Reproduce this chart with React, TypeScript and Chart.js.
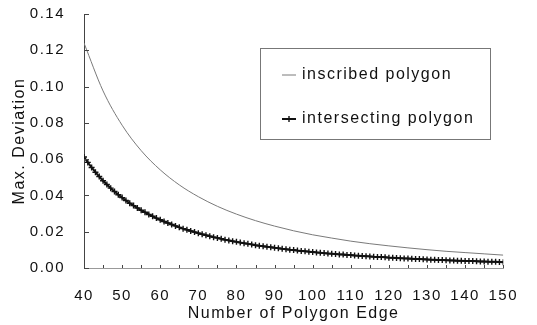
import React, { useEffect, useRef } from "react";
import { Chart, registerables } from "chart.js";

Chart.register(...registerables);

// Number of polygon edges (x categories for the intersecting polygon series)
const edges = [
  40, 41, 42, 43, 44, 45, 46, 47, 48, 49,
  50, 51, 52, 53, 54, 55, 56, 57, 58, 59,
  60, 61, 62, 63, 64, 65, 66, 67, 68, 69,
  70, 71, 72, 73, 74, 75, 76, 77, 78, 79,
  80, 81, 82, 83, 84, 85, 86, 87, 88, 89,
  90, 91, 92, 93, 94, 95, 96, 97, 98, 99,
  100, 101, 102, 103, 104, 105, 106, 107, 108, 109,
  110, 111, 112, 113, 114, 115, 116, 117, 118, 119,
  120, 121, 122, 123, 124, 125, 126, 127, 128, 129,
  130, 131, 132, 133, 134, 135, 136, 137, 138, 139,
  140, 141, 142, 143, 144, 145, 146, 147, 148, 149, 150,
];

const intersectingValues = [
  0.0612, 0.0582, 0.0554, 0.0528, 0.0504, 0.0481, 0.046, 0.044, 0.0422, 0.0404,
  0.0388, 0.0372, 0.0357, 0.0344, 0.0331, 0.0318, 0.0307, 0.0295, 0.0285, 0.0275,
  0.0266, 0.0256, 0.0248, 0.024, 0.0232, 0.0224, 0.0217, 0.0211, 0.0204, 0.0198,
  0.0192, 0.0186, 0.0181, 0.0175, 0.017, 0.0166, 0.0161, 0.0156, 0.0152, 0.0148,
  0.0144, 0.014, 0.0137, 0.0133, 0.013, 0.0126, 0.0123, 0.012, 0.0117, 0.0114,
  0.0111, 0.0109, 0.0106, 0.0104, 0.0101, 0.0099, 0.0096, 0.0094, 0.0092, 0.009,
  0.0088, 0.0086, 0.0084, 0.0082, 0.008, 0.0079, 0.0077, 0.0075, 0.0074, 0.0072,
  0.0071, 0.0069, 0.0068, 0.0066, 0.0065, 0.0064, 0.0062, 0.0061, 0.006, 0.0059,
  0.0057, 0.0056, 0.0055, 0.0054, 0.0053, 0.0052, 0.0051, 0.005, 0.0049, 0.0048,
  0.0047, 0.0046, 0.0045, 0.0044, 0.0044, 0.0043, 0.0042, 0.0041, 0.004, 0.004,
  0.0039, 0.0038, 0.0038, 0.0037, 0.0036, 0.0036, 0.0035, 0.0034, 0.0034, 0.0033, 0.0032,
];

const inscribedEdges = [
  40, 45, 50, 55, 60, 65, 70, 75, 80, 85, 90, 95,
  100, 105, 110, 115, 120, 125, 130, 135, 140, 145, 150,
];

const inscribedValues = [
  0.124, 0.0976, 0.0787, 0.0647, 0.0541, 0.0458, 0.0393, 0.034, 0.0297, 0.0261, 0.0231, 0.0205,
  0.0183, 0.0165, 0.0148, 0.0134, 0.0122, 0.0111, 0.0101, 0.0092, 0.0085, 0.0078, 0.0071,
];

const seriesLabels = ["inscribed polygon", "intersecting polygon"];
const xTitle = "Number of Polygon Edge";
const yTitle = "Max. Deviation";

const FONT = "'Liberation Sans', Arial, Helvetica, sans-serif";
const TEXT = "#111111";

const spacingPlugin = {
  id: "spacing",
  afterInit(c: any) {
    c.ctx.letterSpacing = "1.5px";
  },
  beforeUpdate(c: any) {
    c.ctx.letterSpacing = "1.5px";
  },
  beforeDraw(c: any) {
    c.ctx.letterSpacing = "1.5px";
  },
};

const tickMarksPlugin = {
  id: "tickMarks",
  afterDatasetsDraw(chart: any) {
    const { ctx, chartArea, scales } = chart;
    const x = scales.x;
    const y = scales.y;
    ctx.save();
    ctx.strokeStyle = "#444";
    ctx.lineWidth = 1;
    ctx.beginPath();
    y.ticks.forEach((t: any) => {
      const py = Math.round(y.getPixelForValue(t.value)) + 0.5;
      ctx.moveTo(chartArea.left, py);
      ctx.lineTo(chartArea.left + 5, py);
    });
    for (let v = x.min; v <= x.max; v += 5) {
      const px = Math.round(x.getPixelForValue(v)) + 0.5;
      ctx.moveTo(px, chartArea.bottom);
      ctx.lineTo(px, chartArea.bottom - 3);
    }
    ctx.stroke();
    ctx.restore();
  },
};

const legendPlugin = {
  id: "boxLegend",
  afterDraw(chart: any) {
    const { ctx, chartArea } = chart;
    const bx = chartArea.left + 176;
    const by = chartArea.top + 34;
    const bw = 230;
    const bh = 91;
    ctx.save();
    ctx.letterSpacing = "1.5px";
    ctx.strokeStyle = "#777";
    ctx.lineWidth = 1;
    ctx.strokeRect(Math.round(bx) + 0.5, Math.round(by) + 0.5, bw, bh);
    const rows = [by + 27, by + 71];
    ctx.font = `16px ${FONT}`;
    ctx.textBaseline = "middle";
    ctx.textAlign = "left";
    chart.data.datasets.forEach((ds: any, i: number) => {
      const ry = rows[i];
      ctx.strokeStyle = ds.borderColor;
      ctx.lineWidth = ds.borderWidth;
      ctx.beginPath();
      ctx.moveTo(bx + 22, ry);
      ctx.lineTo(bx + 36, ry);
      ctx.stroke();
      if (ds.pointRadius > 0) {
        ctx.lineWidth = 1.4;
        ctx.beginPath();
        ctx.moveTo(bx + 29 - 3, ry);
        ctx.lineTo(bx + 29 + 3, ry);
        ctx.moveTo(bx + 29, ry - 3);
        ctx.lineTo(bx + 29, ry + 3);
        ctx.stroke();
      }
      ctx.fillStyle = TEXT;
      ctx.fillText(ds.label, bx + 42, ry);
    });
    ctx.restore();
  },
};

export default function App() {
  const canvasRef = useRef<HTMLCanvasElement | null>(null);

  useEffect(() => {
    document.body.style.margin = "0";
    const canvas = canvasRef.current;
    if (!canvas) return;
    const chart = new Chart(canvas, {
      type: "line",
      data: {
        datasets: [
          {
            label: seriesLabels[0],
            data: inscribedEdges.map((e, i) => ({ x: e, y: inscribedValues[i] })),
            borderColor: "#7a7a7a",
            borderWidth: 1,
            pointRadius: 0,
            cubicInterpolationMode: "monotone",
            fill: false,
          },
          {
            label: seriesLabels[1],
            data: edges.map((e, i) => ({ x: e, y: intersectingValues[i] })),
            borderColor: "#111111",
            borderWidth: 2,
            pointStyle: "cross",
            pointRadius: 3,
            pointBorderWidth: 1.4,
            pointBorderColor: "#111111",
            fill: false,
          },
        ],
      } as any,
      options: {
        animation: false,
        responsive: false,
        devicePixelRatio: 1,
        layout: { padding: { top: 14, right: 29, bottom: 0, left: 0 } },
        plugins: {
          legend: { display: false },
          tooltip: { enabled: false },
        },
        scales: {
          x: {
            type: "linear",
            min: 40,
            max: 150,
            afterFit: (s: any) => {
              s.height = 57;
            },
            ticks: {
              stepSize: 10,
              padding: 19,
              color: TEXT,
              font: { family: FONT, size: 15 },
              maxRotation: 0,
            },
            grid: { display: true, drawOnChartArea: false, drawTicks: false, color: "rgba(0,0,0,0)" },
            border: { display: true, color: "#999", width: 1 },
            title: {
              display: true,
              text: xTitle,
              color: TEXT,
              font: { family: FONT, size: 16 },
              padding: { top: 0, bottom: 2 },
            },
          },
          y: {
            type: "linear",
            min: 0,
            max: 0.14,
            afterFit: (s: any) => {
              s.width = 84;
              s.paddingTop = 0;
              s.paddingBottom = 0;
            },
            ticks: {
              stepSize: 0.02,
              padding: 19,
              color: TEXT,
              font: { family: FONT, size: 15 },
              callback: (v: any) => Number(v).toFixed(2),
            },
            grid: { display: true, drawOnChartArea: false, drawTicks: false, color: "rgba(0,0,0,0)" },
            border: { display: true, color: "#444", width: 1 },
            title: {
              display: true,
              text: yTitle,
              color: TEXT,
              font: { family: FONT, size: 16 },
              padding: { top: 10, bottom: 0 },
            },
          },
        },
      } as any,
      plugins: [spacingPlugin, tickMarksPlugin, legendPlugin],
    });
    return () => chart.destroy();
  }, []);

  return (
    <div style={{ width: 537, height: 325 }}>
      <canvas ref={canvasRef} width={537} height={325} style={{ display: "block", width: 537, height: 325 }} />
    </div>
  );
}
